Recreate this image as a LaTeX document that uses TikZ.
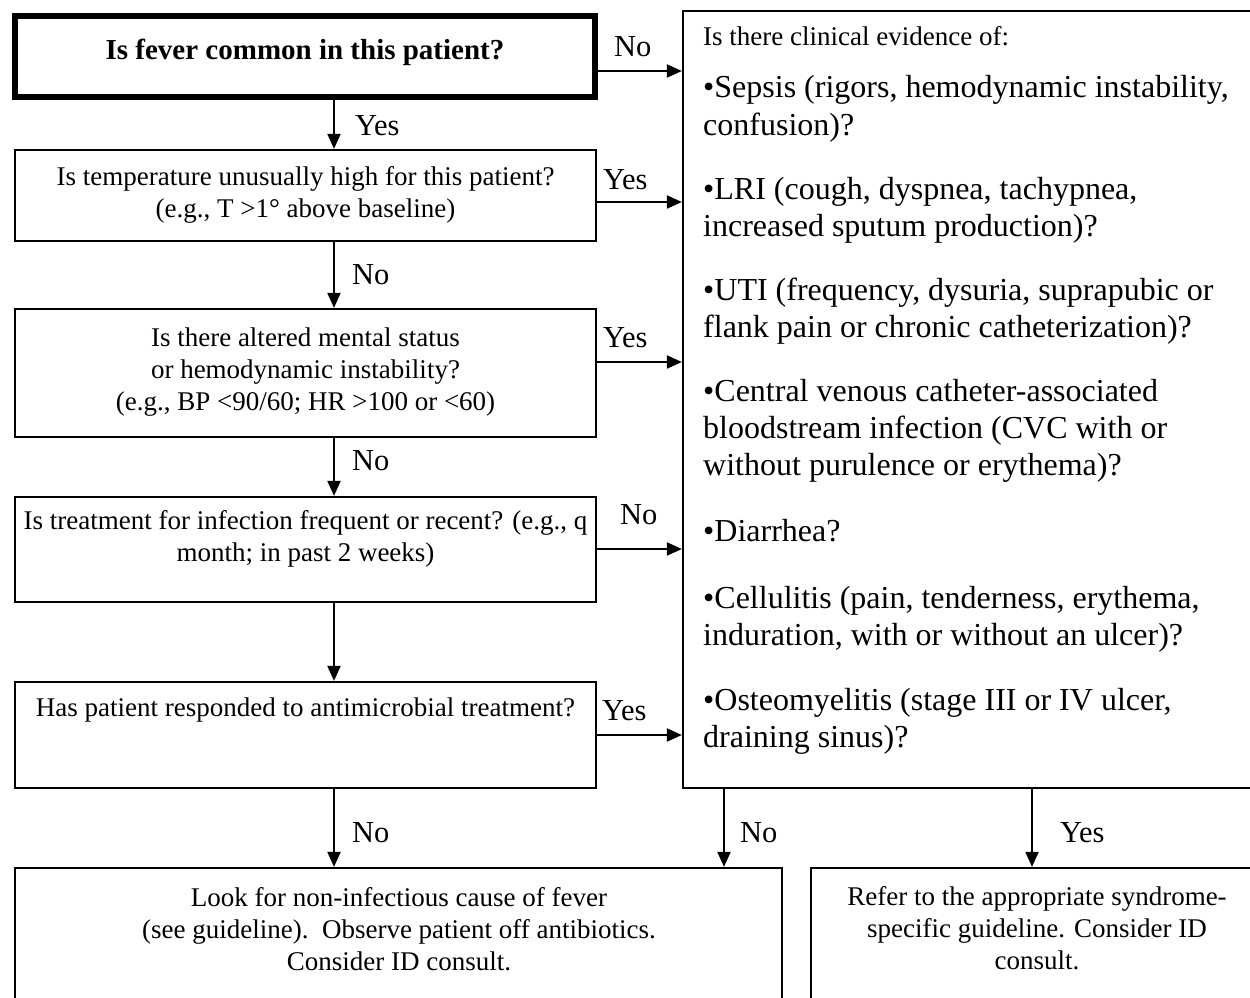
\documentclass[tikz,border=0pt]{standalone}
\usepackage{fontspec}
\setmainfont{Liberation Serif}
\usetikzlibrary{arrows.meta}
\begin{document}
\begin{tikzpicture}[x=1pt,y=-1pt,
  box/.style={draw, line width=2.2pt, rectangle, inner sep=0pt},
  thickbox/.style={box, line width=6pt},
  arr/.style={line width=2pt, -{Triangle[length=15pt,width=13pt]}},
  btxt/.style={font=\fontsize{27}{32}\selectfont, align=center, inner sep=0pt},
  ttl/.style={font=\bfseries\fontsize{29}{34}\selectfont, inner sep=0pt},
  lab/.style={font=\fontsize{30.5}{36}\selectfont, inner sep=0pt, anchor=west, text height=21pt, text depth=6pt},
  rl/.style={font=\fontsize{32}{37}\selectfont, inner sep=0pt, anchor=west, text height=23pt, text depth=7pt},
  rh/.style={font=\fontsize{27}{32}\selectfont, inner sep=0pt, anchor=west, text height=19pt, text depth=6pt}]
\useasboundingbox (0,0) rectangle (1250,998);
\fill[white] (0,0) rectangle (1250,998);
\clip (0,0) rectangle (1250,998);

% boxes
\node[thickbox, minimum width=580, minimum height=81] (b1) at (305,56.5) {};
\node[box, minimum width=581, minimum height=91] (b2) at (305.5,195.5) {};
\node[box, minimum width=581, minimum height=128] (b3) at (305.5,373) {};
\node[box, minimum width=581, minimum height=105] (b4) at (305.5,549.5) {};
\node[box, minimum width=581, minimum height=106] (b5) at (305.5,735) {};
\node[box, minimum width=582, minimum height=777] (rb) at (974,399.5) {};
\node[box, minimum width=767, minimum height=142] (bl) at (398.5,939) {};
\node[box, minimum width=454, minimum height=142] (br) at (1038,939) {};

% box texts
\node[ttl] (t1) at (305,52) {Is fever common in this patient?};
\node[btxt] (t2) at (305.5,195) {Is temperature unusually high for this patient?\\(e.g., T >1° above baseline)};
\node[btxt] (t3) at (305.5,372) {Is there altered mental status\\or hemodynamic instability?\\(e.g., BP <90/60; HR >100 or <60)};
\node[btxt] (t4) at (305.5,539) {Is treatment for infection frequent or recent? (e.g., q\\month; in past 2 weeks)};
\node[btxt] (t5) at (305.5,710) {Has patient responded to antimicrobial treatment?};
\node[btxt] (t6) at (399,929) {Look for non-infectious cause of fever\\(see guideline).\ \ Observe patient off antibiotics.\\Consider ID consult.};
\node[btxt] (t7) at (1037,928) {Refer to the appropriate syndrome-\\specific guideline. Consider ID\\consult.};

% right box text
\node[rh] (h0) at (703,39) {Is there clinical evidence of:};
\node[rl] (s1) at (703,89) {•Sepsis (rigors, hemodynamic instability,};
\node[rl] (s2) at (703,127) {confusion)?};
\node[rl] (l1) at (703,191) {•LRI (cough, dyspnea, tachypnea,};
\node[rl] (l2) at (703,228) {increased sputum production)?};
\node[rl] (u1) at (703,292) {•UTI (frequency, dysuria, suprapubic or};
\node[rl] (u2) at (703,329) {flank pain or chronic catheterization)?};
\node[rl] (c1) at (703,393) {•Central venous catheter-associated};
\node[rl] (c2) at (703,430) {bloodstream infection (CVC with or};
\node[rl] (c3) at (703,467) {without purulence or erythema)?};
\node[rl] (d1) at (703,533) {•Diarrhea?};
\node[rl] (e1) at (703,600) {•Cellulitis (pain, tenderness, erythema,};
\node[rl] (e2) at (703,637) {induration, with or without an ulcer)?};
\node[rl] (o1) at (703,702) {•Osteomyelitis (stage III or IV ulcer,};
\node[rl] (o2) at (703,739) {draining sinus)?};

% helper coordinates
\coordinate (colA) at (334,0);
\coordinate (colB) at (724,0);
\coordinate (colC) at (1032,0);
\coordinate (r1) at (0,71);
\coordinate (r2) at (0,202);
\coordinate (r3) at (0,362);
\coordinate (r4) at (0,549);
\coordinate (r5) at (0,735);

% vertical connectors
\draw[arr] (b1.south -| colA) -- (b2.north -| colA);
\draw[arr] (b2.south -| colA) -- (b3.north -| colA);
\draw[arr] (b3.south -| colA) -- (b4.north -| colA);
\draw[arr] (b4.south -| colA) -- (b5.north -| colA);
\draw[arr] (b5.south -| colA) -- (bl.north -| colA);
\draw[arr] (rb.south -| colB) -- (bl.north -| colB);
\draw[arr] (rb.south -| colC) -- (br.north -| colC);

% horizontal connectors
\draw[arr] (b1.east |- r1) -- (rb.west |- r1);
\draw[arr] (b2.east |- r2) -- (rb.west |- r2);
\draw[arr] (b3.east |- r3) -- (rb.west |- r3);
\draw[arr] (b4.east |- r4) -- (rb.west |- r4);
\draw[arr] (b5.east |- r5) -- (rb.west |- r5);

% labels
\node[lab] (y1) at (355,128) {Yes};
\node[lab] (n2) at (352,277) {No};
\node[lab] (n3) at (352,463) {No};
\node[lab] (n5) at (352,835) {No};
\node[lab] (nr) at (740,835) {No};
\node[lab] (yr) at (1060,835) {Yes};
\node[lab] (h1) at (614,49) {No};
\node[lab] (h2) at (603,182) {Yes};
\node[lab] (h3) at (603,340) {Yes};
\node[lab] (h4) at (620,517) {No};
\node[lab] (h5) at (602,713) {Yes};
\end{tikzpicture}
\end{document}
